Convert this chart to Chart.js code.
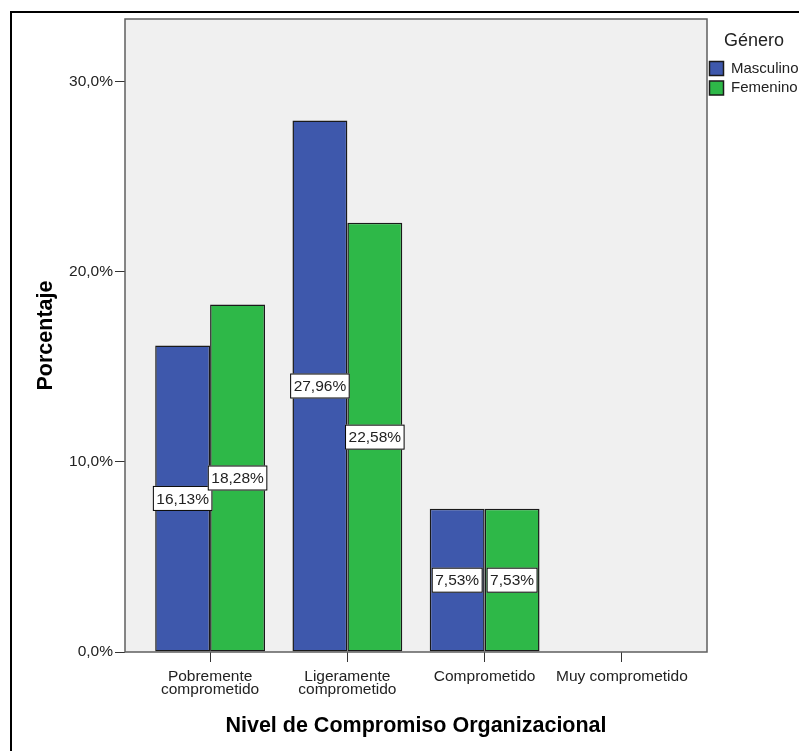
<!DOCTYPE html>
<html>
<head>
<meta charset="utf-8">
<title>Nivel de Compromiso Organizacional</title>
<script src="https://cdn.jsdelivr.net/npm/chart.js@4"></script>
<style>
    html, body { margin: 0; padding: 0; background: #ffffff; overflow: hidden; }
    #chart { display: block; }
</style>
</head>
<body>
<canvas id="chart" width="799" height="751"></canvas>
<script>

/* =====================================
   DATA
===================================== */

const categories = [
    "Pobremente comprometido",
    "Ligeramente comprometido",
    "Comprometido",
    "Muy comprometido"
];

const categoryTickLines = [
    ["Pobremente", "comprometido"],
    ["Ligeramente", "comprometido"],
    ["Comprometido"],
    ["Muy comprometido"]
];

const masculino = [16.13, 27.96, 7.53, 0];
const femenino  = [18.28, 22.58, 7.53, 0];

const yTicks = [0, 10, 20, 30];

/* =====================================
   HELPERS
===================================== */

const FONT = "'Liberation Sans', Arial, sans-serif";

function pct(v, digits){
    return v.toFixed(digits).replace(".", ",") + "%";
}

function toPoints(values){
    return values.map((v, i) => ({ x: i, y: v }));
}

/* =====================================
   PLUGINS
===================================== */

// white page, outer frame and grey plot panel
const panelPlugin = {
    id: "panel",
    afterLayout(chart){
        // nudge the legend block a little to the left
        const lg = chart.legend;
        if(!lg) return;
        lg.left = 705;
        lg.width = 98;
        lg.right = lg.left + lg.width;
    },
    beforeDraw(chart){
        const ctx = chart.ctx;
        const a = chart.chartArea;
        ctx.save();
        ctx.fillStyle = "#ffffff";
        ctx.fillRect(0, 0, chart.width, chart.height);

        ctx.fillStyle = "#000000";
        ctx.fillRect(10, 11, chart.width, 2);
        ctx.fillRect(10, 11, 2, chart.height);

        ctx.fillStyle = "#f0f0f0";
        ctx.fillRect(a.left, a.top, a.right - a.left, a.bottom - a.top);
        ctx.restore();
    },
    afterDraw(chart){
        const ctx = chart.ctx;
        const a = chart.chartArea;
        ctx.save();
        ctx.strokeStyle = "#5f5f5f";
        ctx.lineWidth = 1.5;
        ctx.strokeRect(a.left, a.top, a.right - a.left, a.bottom - a.top);
        ctx.restore();
    }
};

// boxed value labels in the middle of each bar
const valueBoxPlugin = {
    id: "valueBoxes",
    afterDatasetsDraw(chart){
        const ctx = chart.ctx;
        ctx.save();
        ctx.font = "15.5px " + FONT;
        ctx.textAlign = "center";
        ctx.textBaseline = "middle";

        chart.data.datasets.forEach((ds, di) => {
            const meta = chart.getDatasetMeta(di);
            meta.data.forEach((bar, i) => {
                const v = ds.data[i].y;
                if(!v) return;

                const text = pct(v, 2);
                const w = ctx.measureText(text).width + 7;
                const h = 25;
                const cx = bar.x;
                const cy = (bar.y + bar.base) / 2;

                ctx.fillStyle = "#ffffff";
                ctx.fillRect(cx - w / 2, cy - h / 2, w, h);
                ctx.strokeStyle = "#000000";
                ctx.lineWidth = 1;
                ctx.strokeRect(cx - w / 2 + 0.5, cy - h / 2 + 0.5, w - 1, h - 1);

                ctx.fillStyle = "#222222";
                ctx.fillText(text, cx, cy + 1);
            });
        });
        ctx.restore();
    }
};

/* =====================================
   CHART
===================================== */

Chart.defaults.font.family = FONT;
Chart.defaults.color = "#222222";

new Chart(document.getElementById("chart"), {

    type: "bar",

    data: {
        datasets: [
            {
                label: "Masculino",
                data: toPoints(masculino),
                backgroundColor: "#3e58ac",
                borderColor: "#1a1a1a",
                borderWidth: 1.5,
                borderSkipped: false,
                categoryPercentage: 0.8,
                barPercentage: 1.0
            },
            {
                label: "Femenino",
                data: toPoints(femenino),
                backgroundColor: "#2eb848",
                borderColor: "#1a1a1a",
                borderWidth: 1.5,
                borderSkipped: false,
                categoryPercentage: 0.8,
                barPercentage: 1.0
            }
        ]
    },

    options: {
        responsive: false,
        animation: false,
        events: [],

        layout: {
            padding: { top: 19, left: 0, right: 0, bottom: 0 }
        },

        scales: {
            x: {
                type: "linear",
                min: -0.62,
                max: 3.62,
                offset: false,
                afterFit(scale){ scale.height = 99; },
                grid: {
                    offset: false,
                    drawOnChartArea: false,
                    drawTicks: true,
                    tickLength: 10,
                    color: "#333333"
                },
                border: { display: false },
                ticks: {
                    stepSize: 1,
                    includeBounds: false,
                    autoSkip: false,
                    maxRotation: 0,
                    padding: 8,
                    font: { size: 15.5, lineHeight: 0.86 },
                    callback: (v) => categoryTickLines[v] || ""
                },
                title: {
                    display: true,
                    text: "Nivel de Compromiso Organizacional",
                    font: { size: 21.5, weight: "bold" },
                    color: "#000000",
                    padding: { top: 12, bottom: 12 }
                }
            },
            y: {
                min: 0,
                max: 33.3,
                afterFit(scale){ scale.width = 125; },
                afterBuildTicks(scale){
                    scale.ticks = yTicks.map(v => ({ value: v }));
                },
                grid: {
                    drawOnChartArea: false,
                    drawTicks: true,
                    tickLength: 10,
                    color: "#333333"
                },
                border: { display: false },
                ticks: {
                    padding: 2,
                    font: { size: 15.5 },
                    callback: (v) => pct(v, 1)
                },
                title: {
                    display: true,
                    text: "Porcentaje",
                    font: { size: 21.5, weight: "bold" },
                    color: "#000000",
                    padding: { top: 33, bottom: 4 }
                }
            }
        },

        plugins: {
            legend: {
                position: "right",
                align: "start",
                maxWidth: 92,
                title: {
                    display: true,
                    text: "Género",
                    font: { size: 18 },
                    color: "#222222",
                    padding: { top: 13, bottom: 3 }
                },
                labels: {
                    boxWidth: 14,
                    boxHeight: 14,
                    padding: 4.5,
                    font: { size: 15 },
                    color: "#222222"
                }
            },
            tooltip: { enabled: false }
        }
    },

    plugins: [panelPlugin, valueBoxPlugin]

});
</script>
</body>
</html>
